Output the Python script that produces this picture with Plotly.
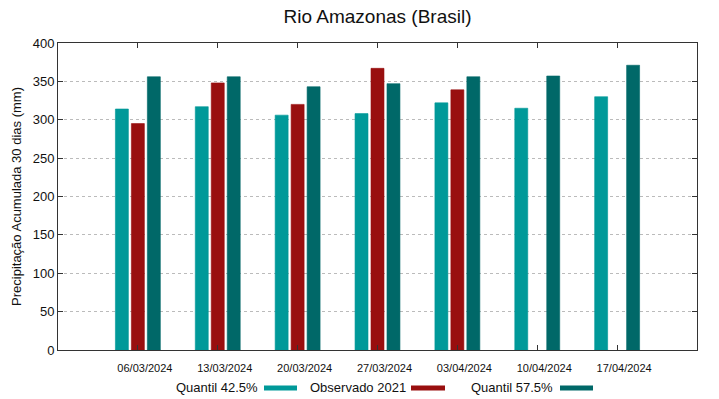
import plotly.graph_objects as go

dates = ["06/03/2024", "13/03/2024", "20/03/2024", "27/03/2024",
         "03/04/2024", "10/04/2024", "17/04/2024"]
q425 = [314, 317, 306, 308, 322, 315, 330]
obs2021 = [295, 348, 320, 367, 339, None, None]
q575 = [356, 356, 343, 347, 356, 357, 371]

names = ["Quantil 42.5%", "Observado 2021", "Quantil 57.5%"]
colors = ["#009999", "#990f0f", "#006868"]
series = [q425, obs2021, q575]

fig = go.Figure()
for n, c, s in zip(names, colors, series):
    fig.add_trace(go.Bar(x=dates, y=s, name=n, marker=dict(color=c, line=dict(color=c, width=0.6)),
                         showlegend=False))

W, H = 719, 399
L, R, T, B = 58, 22, 43, 49
PW, PH = W - L - R, H - T - B

def px_x(x):
    return (x - L) / PW

def px_y(y):
    return (H - y - B) / PH

# legend drawn gnuplot-style: text then swatch
legend_specs = [(260, 264, 297), (408, 411, 445), (555, 560, 593)]
shapes = []
annotations = []
for (tx, s0, s1), n, c in zip(legend_specs, names, colors):
    annotations.append(dict(text=n, x=px_x(tx), y=px_y(387), xref="paper", yref="paper",
                            xanchor="right", yanchor="middle", showarrow=False,
                            font=dict(size=13, color="#111", family="Liberation Sans, Arial")))
    shapes.append(dict(type="line", xref="paper", yref="paper",
                       x0=px_x(s0), x1=px_x(s1), y0=px_y(388), y1=px_y(388),
                       line=dict(color=c, width=5)))

fig.update_layout(
    width=W, height=H,
    margin=dict(l=L, r=R, t=T, b=B),
    paper_bgcolor="white", plot_bgcolor="white",
    barmode="group", bargap=0.4, bargroupgap=0.1875,
    font=dict(family="Liberation Sans, Arial", color="#111"),
    title=dict(text="Rio Amazonas (Brasil)", x=(L + PW / 2) / W, xanchor="center",
               y=1 - 16 / H, yanchor="middle", font=dict(size=19, color="#111")),
    shapes=shapes, annotations=annotations,
)
fig.update_xaxes(type="category", range=[-1, 7], showline=True, linecolor="#333", linewidth=1,
                 mirror="allticks", ticks="inside", ticklen=5, tickcolor="#333",
                 showgrid=False, tickfont=dict(size=11), ticklabelshift=7, ticklabelstandoff=8)
fig.update_yaxes(range=[0, 400], dtick=50, showline=True, linecolor="#333", linewidth=1,
                 mirror="allticks", ticks="inside", ticklen=5, tickcolor="#333",
                 showgrid=True, gridcolor="#bbbbbb", griddash="dot", gridwidth=1,
                 zeroline=False, tickfont=dict(size=13),
                 title=dict(text="Precipitação Acumulada 30 dias (mm)", font=dict(size=13), standoff=8))

fig.write_html("out.html", config={"displayModeBar": False},
               post_script="document.body.style.margin='0';")
